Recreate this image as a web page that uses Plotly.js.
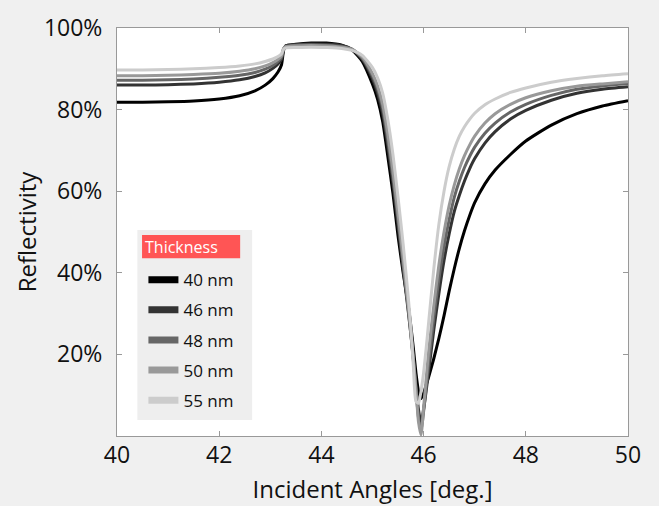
<!DOCTYPE html>
<html>
<head>
<meta charset="utf-8">
<script src="https://cdn.plot.ly/plotly-3.0.1.min.js"></script>
<style>
  html, body { margin: 0; padding: 0; background: #f0f0f0; }
  #chart { width: 659px; height: 506px; }
</style>
</head>
<body>
<div id="chart"></div>
<script>
// Incident angle (deg.)
const angles = [40, 40.5, 41, 41.5, 42, 42.4, 42.7, 42.9, 43.05, 43.15,
  43.22, 43.26, 43.3, 43.5, 43.8, 44.1, 44.4, 44.6, 44.8, 45.0,
  45.1, 45.2, 45.3, 45.4, 45.5, 45.6, 45.7, 45.75, 45.8, 45.85,
  45.9, 45.95, 46.0, 46.05, 46.1, 46.2, 46.3, 46.4, 46.5, 46.6,
  46.7, 46.8, 46.9, 47.0, 47.2, 47.4, 47.7, 48.0, 48.5, 49.0, 49.5, 50.0];

// Reflectivity (%) for each gold thickness
const refl40 = [81.8, 81.8, 81.9, 82.1, 82.6, 83.4, 84.6, 86.0, 87.6, 89.2,
  91.0, 94.5, 95.6, 96.0, 96.3, 96.3, 95.8, 94.6, 91.8, 86.2,
  82.5, 77.0, 68.5, 59.5, 49.0, 40.0, 32.0, 27.0, 21.5, 15.5,
  11.0, 9.2, 10.5, 12.5, 14.5, 19.0, 24.0, 29.5, 35.5, 41.0,
  46.0, 50.3, 54.0, 57.2, 61.8, 65.2, 69.0, 72.3, 76.2, 79.0, 80.9, 82.2];
const refl46 = [86.0, 86.0, 86.1, 86.3, 86.7, 87.3, 88.1, 89.0, 90.1, 91.2,
  92.3, 94.8, 95.6, 95.9, 96.1, 96.0, 95.7, 94.8, 92.3, 87.5,
  84.0, 79.0, 71.0, 62.0, 51.5, 41.0, 30.5, 25.0, 19.0, 12.5,
  6.5, 3.2, 6.5, 11.0, 16.0, 26.0, 35.0, 43.0, 49.5, 55.0,
  59.0, 62.5, 65.5, 68.0, 71.8, 74.6, 77.7, 79.8, 82.3, 84.0, 85.0, 85.6];
const refl48 = [87.2, 87.2, 87.3, 87.5, 87.9, 88.4, 89.1, 89.9, 90.8, 91.8,
  92.8, 94.9, 95.5, 95.8, 95.9, 95.8, 95.5, 94.8, 92.6, 88.2,
  85.0, 80.3, 72.5, 63.5, 53.0, 42.0, 31.0, 25.0, 18.5, 11.5,
  4.5, 1.2, 6.0, 12.0, 18.0, 29.0, 38.5, 46.5, 53.0, 58.5,
  62.5, 65.8, 68.5, 70.8, 74.2, 76.7, 79.4, 81.3, 83.5, 85.0, 85.8, 86.4];
const refl50 = [88.3, 88.3, 88.4, 88.6, 88.9, 89.4, 90.0, 90.7, 91.5, 92.3,
  93.2, 95.0, 95.4, 95.6, 95.7, 95.6, 95.3, 94.8, 92.9, 88.8,
  85.8, 81.3, 74.0, 65.0, 54.5, 43.5, 32.0, 26.0, 19.0, 11.5,
  3.5, 0.3, 7.0, 14.0, 21.0, 32.0, 42.0, 50.0, 56.5, 61.5,
  65.5, 68.7, 71.3, 73.5, 76.7, 79.0, 81.3, 82.9, 84.6, 85.7, 86.3, 86.8];
const refl55 = [89.7, 89.7, 89.8, 90.0, 90.3, 90.7, 91.2, 91.8, 92.4, 93.0,
  93.7, 94.8, 95.1, 95.2, 95.3, 95.2, 95.0, 94.5, 93.3, 90.3,
  87.8, 84.0, 77.5, 69.0, 58.5, 47.0, 34.0, 26.5, 17.0, 8.5,
  8.0, 11.0, 15.5, 21.5, 28.0, 41.0, 52.0, 60.0, 66.0, 70.3,
  73.5, 75.8, 77.6, 79.1, 81.2, 82.6, 84.2, 85.3, 86.7, 87.6, 88.3, 88.8];

const seriesNames = ['40 nm', '46 nm', '48 nm', '50 nm', '55 nm'];
const seriesValues = [refl40, refl46, refl48, refl50, refl55];
const seriesColors = ['#000000', '#333333', '#666666', '#999999', '#cccccc'];
const legendTitle = 'Thickness';

const xTicks = [40, 42, 44, 46, 48, 50];
const yTicks = [20, 40, 60, 80, 100];
const yTickText = ['20%', '40%', '60%', '80%', '100%'];

const FONT = '"Open Sans", "Noto Sans", sans-serif';

const traces = [];
seriesValues.forEach((vals, i) => {
  traces.push({
    x: angles, y: vals, type: 'scatter', mode: 'lines',
    line: { color: seriesColors[i], width: 3, shape: 'spline', smoothing: 0.6 },
    showlegend: false, legendgroup: 'g' + i, hoverinfo: 'skip'
  });
});
seriesValues.forEach((vals, i) => {
  traces.push({
    x: [null], y: [null], type: 'scatter', mode: 'lines',
    name: seriesNames[i], legendgroup: 'g' + i,
    line: { color: seriesColors[i], width: 7 }
  });
});

const layout = {
  width: 659, height: 506,
  paper_bgcolor: '#f0f0f0', plot_bgcolor: '#ffffff',
  margin: { l: 117, r: 31, t: 28, b: 70 },
  font: { family: FONT, size: 23, color: '#111111' },
  xaxis: {
    range: [40, 50], tickvals: xTicks, ticks: 'inside', ticklen: 5,
    tickcolor: '#999999', showline: true, linecolor: '#999999', linewidth: 1,
    mirror: 'ticks', showgrid: false, zeroline: false,
    ticklabelstandoff: -2,
    tickfont: { family: FONT, size: 23, color: '#111111' },
    title: { text: 'Incident Angles [deg.]', font: { family: FONT, size: 24, color: '#111111' }, standoff: 12 }
  },
  yaxis: {
    range: [0, 100], tickvals: yTicks, ticktext: yTickText, ticks: 'inside', ticklen: 5,
    tickcolor: '#999999', showline: true, linecolor: '#999999', linewidth: 1,
    mirror: 'ticks', showgrid: false, zeroline: false,
    ticklabelstandoff: 9,
    tickfont: { family: FONT, size: 23, color: '#111111' },
    title: { text: 'Reflectivity', font: { family: FONT, size: 24, color: '#111111' }, standoff: 0 }
  },
  legend: {
    x: 0.0517, y: 0.426, xanchor: 'left', yanchor: 'top',
    bgcolor: 'rgba(0,0,0,0)', borderwidth: 0,
    font: { family: FONT, size: 17, color: '#111111' },
    tracegroupgap: 5, itemwidth: 30
  },
  annotations: [
    { text: legendTitle, xref: 'paper', yref: 'paper', x: 0.0517, y: 0.463,
      xanchor: 'left', yanchor: 'middle', showarrow: false,
      font: { family: FONT, size: 16, color: '#ffffff' } }
  ],
  shapes: [
    { type: 'rect', xref: 'paper', yref: 'paper', x0: 0.0398, x1: 0.2645, y0: 0.039, y1: 0.505,
      fillcolor: '#eeeeee', line: { width: 0 }, layer: 'above' },
    { type: 'rect', xref: 'paper', yref: 'paper', x0: 0.049, x1: 0.241, y0: 0.4355, y1: 0.4926,
      fillcolor: '#ff5555', line: { width: 0 }, layer: 'above' }
  ]
};

Plotly.newPlot('chart', traces, layout, { displayModeBar: false, staticPlot: true });
</script>
</body>
</html>
